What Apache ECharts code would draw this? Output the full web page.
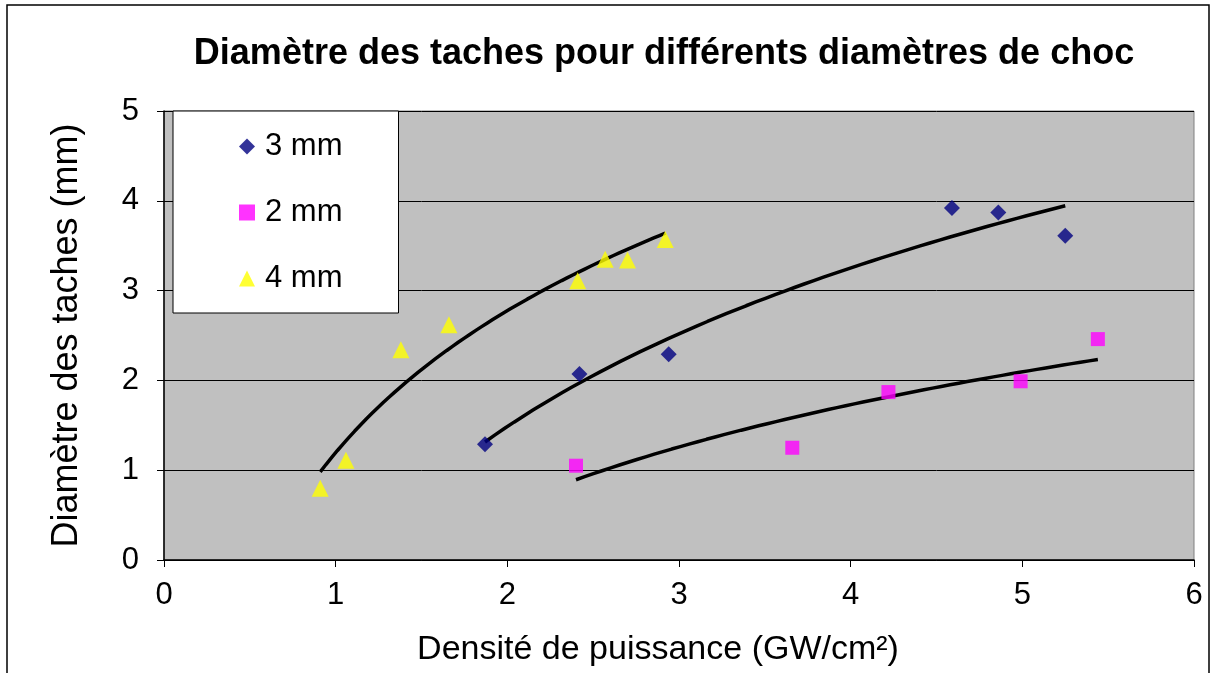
<!DOCTYPE html>
<html>
<head>
<meta charset="utf-8">
<script src="https://cdn.jsdelivr.net/npm/echarts@6/dist/echarts.min.js"></script>
<style>
html,body{margin:0;padding:0;background:#fff;}
#main{width:1217px;height:673px;}
</style>
</head>
<body>
<div id="main"></div>
<script>
// Data
const seriesNames = ['3 mm', '2 mm', '4 mm'];
const x3mm = [1.87, 2.42, 2.94, 4.59, 4.86, 5.25];
const y3mm = [1.29, 2.07, 2.29, 3.92, 3.87, 3.61];
const x2mm = [2.40, 3.66, 4.22, 4.99, 5.44];
const y2mm = [1.05, 1.25, 1.87, 1.99, 2.46];
const x4mm = [0.91, 1.06, 1.38, 1.66, 2.41, 2.57, 2.70, 2.92];
const y4mm = [0.80, 1.11, 2.34, 2.62, 3.11, 3.35, 3.34, 3.57];
const xTicks = [0, 1, 2, 3, 4, 5, 6];
const yTicks = [0, 1, 2, 3, 4, 5];

function pairs(xs, ys) { return xs.map((x, i) => [x, ys[i]]); }

// Logarithmic trend line (least squares on ln x), as in the spreadsheet
function logTrend(xs, ys) {
  const lx = xs.map(Math.log);
  const n = xs.length;
  const mx = lx.reduce((a, b) => a + b, 0) / n;
  const my = ys.reduce((a, b) => a + b, 0) / n;
  let sxy = 0, sxx = 0;
  for (let i = 0; i < n; i++) { sxy += (lx[i] - mx) * (ys[i] - my); sxx += (lx[i] - mx) ** 2; }
  const a = sxy / sxx, b = my - a * mx;
  const x0 = Math.min(...xs), x1 = Math.max(...xs);
  const pts = [];
  const steps = 60;
  for (let k = 0; k <= steps; k++) {
    const x = x0 + (x1 - x0) * k / steps;
    pts.push([x, a * Math.log(x) + b]);
  }
  return pts;
}

const font = '"Liberation Sans", Arial, sans-serif';
const chart = echarts.init(document.getElementById('main'), null, {renderer: 'canvas'});

const trendStyle = {color: '#000', width: 3.5};
const trend = (data) => ({
  type: 'line', data, showSymbol: false, symbol: 'none', silent: true,
  lineStyle: trendStyle, z: 3, animation: false
});

chart.setOption({
  animation: false,
  backgroundColor: '#fff',
  title: {
    text: 'Diamètre des taches pour différents diamètres de choc',
    left: 659, top: 31, textAlign: 'center',
    textStyle: {fontFamily: font, fontSize: 36, fontWeight: 'bold', color: '#000'}
  },
  graphic: [{
    type: 'rect', shape: {x: 7, y: 5, width: 1202, height: 720},
    style: {fill: 'none', stroke: '#000', lineWidth: 1.5}, silent: true, z: -1
  }],
  legend: {
    data: seriesNames,
    orient: 'vertical',
    left: 173, top: 111,
    padding: [20, 56, 19, 66],
    itemGap: 35,
    itemWidth: 16, itemHeight: 16,
    backgroundColor: '#fff',
    borderColor: '#000', borderWidth: 1,
    textStyle: {fontFamily: font, fontSize: 31, lineHeight: 31, color: '#000', padding: [0, 0, 0, 5]}
  },
  grid: {
    left: 164, right: 23, top: 111, bottom: 113,
    show: true, backgroundColor: '#C0C0C0', borderColor: '#808080', borderWidth: 1
  },
  xAxis: {
    type: 'value', min: 0, max: 6, interval: 1,
    name: 'Densité de puissance (GW/cm²)',
    nameLocation: 'middle', nameGap: 73,
    nameTextStyle: {fontFamily: font, fontSize: 34, color: '#000', padding: [0, 42, 0, 0]},
    axisLine: {show: true, onZero: false, lineStyle: {color: '#000', width: 1.5}},
    axisTick: {show: true, length: 7, lineStyle: {color: '#000'}},
    axisLabel: {fontFamily: font, fontSize: 31, color: '#000', margin: 20,
      formatter: v => xTicks.includes(v) ? String(v) : ''},
    splitLine: {show: false}
  },
  yAxis: {
    type: 'value', min: 0, max: 5, interval: 1,
    name: 'Diamètre des taches (mm)',
    nameLocation: 'middle', nameGap: 79, nameRotate: 90,
    nameTextStyle: {fontFamily: font, fontSize: 36, color: '#000'},
    axisLine: {show: true, onZero: false, lineStyle: {color: '#000', width: 1.5}},
    axisTick: {show: true, length: 7, lineStyle: {color: '#000'}},
    axisLabel: {fontFamily: font, fontSize: 31, color: '#000', margin: 25,
      formatter: v => yTicks.includes(v) ? String(v) : ''},
    splitLine: {show: true, lineStyle: {color: '#000', width: 1}}
  },
  series: [
    {name: seriesNames[0], type: 'scatter', data: pairs(x3mm, y3mm),
     symbol: 'diamond', symbolSize: 16, itemStyle: {color: '#000080'}, z: 4},
    {name: seriesNames[1], type: 'scatter', data: pairs(x2mm, y2mm),
     symbol: 'rect', symbolSize: 14, itemStyle: {color: '#FF00FF'}, z: 4},
    {name: seriesNames[2], type: 'scatter', data: pairs(x4mm, y4mm),
     symbol: 'triangle', symbolSize: 17, itemStyle: {color: '#FFFF00'}, z: 4},
    trend(logTrend(x3mm, y3mm)),
    trend(logTrend(x2mm, y2mm)),
    trend(logTrend(x4mm, y4mm))
  ]
});
</script>
</body>
</html>
